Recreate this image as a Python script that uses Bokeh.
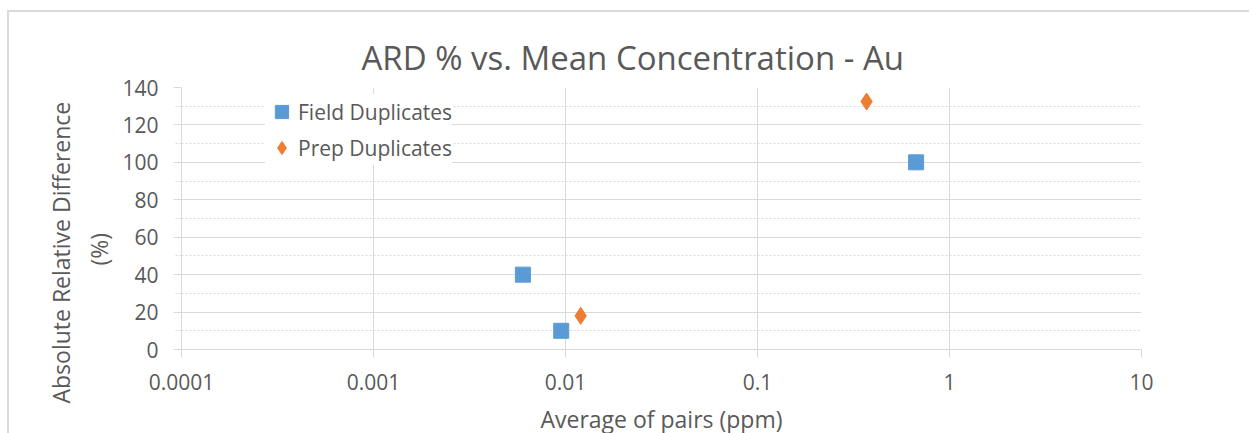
from bokeh.plotting import figure
from bokeh.models import (Range1d, FixedTicker, SingleIntervalTicker, Legend, LegendItem,
                          Title, ColumnDataSource)
from bokeh.embed import file_html
from bokeh.resources import INLINE

# ---- data ----
title_text = "ARD % vs. Mean Concentration - Au"
x_title = "Average of pairs (ppm)"
y_title_lines = ["Absolute Relative Difference", "(%)"]

field_x = [0.006, 0.0095, 0.67]
field_y = [40, 10, 100]
prep_x = [0.012, 0.37]
prep_y = [18, 132.5]

x_ticks = [0.0001, 0.001, 0.01, 0.1, 1, 10]
x_tick_labels = ["0.0001", "0.001", "0.01", "0.1", "1", "10"]

FONT = "Open Sans"
TXT = "#595959"
GRID = "#D9D9D9"
BLUE = "#5B9BD5"
ORANGE = "#ED7D31"

p = figure(x_axis_type="log", frame_width=960, frame_height=262,
           min_border_left=172, min_border_right=108, min_border_top=75, min_border_bottom=82,
           x_range=Range1d(0.0001, 10), y_range=Range1d(0, 140),
           output_backend="svg", toolbar_location=None, tools="")
p.styles = {"margin-left": "7px", "margin-top": "10px",
            "border-top": "2px solid #DADADA", "border-left": "2px solid #DADADA"}
p.outline_line_color = None
p.background_fill_color = "white"
p.border_fill_color = "white"

# title
p.title.text = title_text
p.title.align = "left"
p.title.offset = 180
p.title.text_font = FONT
p.title.text_font_size = "33px"
p.title.text_font_style = "normal"
p.title.text_color = TXT
p.title.standoff = 16

# axes
xa = p.xaxis[0]
xa.ticker = FixedTicker(ticks=x_ticks, minor_ticks=[])
xa.major_label_overrides = {t: l for t, l in zip(x_ticks, x_tick_labels)}
ya = p.yaxis[0]
ya.ticker = SingleIntervalTicker(interval=20, num_minor_ticks=2)
for ax in (xa, ya):
    ax.axis_line_color = GRID
    ax.major_tick_line_color = GRID
    ax.major_tick_out = 8
    ax.major_tick_in = 0
    ax.major_label_text_font = FONT
    ax.major_label_text_font_size = "21px"
    ax.major_label_text_color = TXT
    ax.axis_label_text_font = FONT
    ax.axis_label_text_font_style = "normal"
    ax.axis_label_text_color = TXT
xa.minor_tick_line_color = None
xa.major_label_standoff = 16
xa.axis_label = x_title
xa.axis_label_text_font_size = "23px"
xa.axis_label_standoff = 10
ya.minor_tick_line_color = GRID
ya.minor_tick_line_dash = "2 2"
ya.minor_tick_out = 6
ya.minor_tick_in = 0
ya.major_label_standoff = 15

# y axis title (two lines), nearest line first
y_offsets = {"(%)": 84, "Absolute Relative Difference": -54}
y_standoffs = {"(%)": 10, "Absolute Relative Difference": -3}
for line in reversed(y_title_lines):
    p.add_layout(Title(text=line, align="left", offset=y_offsets[line], text_font=FONT,
                       text_font_size="23px", text_font_style="normal", text_color=TXT,
                       standoff=y_standoffs[line]), "left")

# grids
p.xgrid.grid_line_color = GRID
p.ygrid.grid_line_color = GRID
p.ygrid.minor_grid_line_color = GRID
p.ygrid.minor_grid_line_dash = "2 2"

# data
src_f = ColumnDataSource(dict(x=field_x, y=field_y))
src_p = ColumnDataSource(dict(x=prep_x, y=prep_y))
rf = p.scatter("x", "y", source=src_f, marker="square", size=15, fill_color=BLUE, line_color=BLUE)
rp = p.scatter("x", "y", source=src_p, marker="diamond", size=17,
               fill_color=ORANGE, line_color=ORANGE)

legend = Legend(items=[LegendItem(label="Field Duplicates", renderers=[rf]),
                       LegendItem(label="Prep Duplicates", renderers=[rp])],
                location=(84, 184), orientation="vertical")
legend.margin = 0
legend.padding = 4
legend.spacing = 1
legend.glyph_width = 33
legend.glyph_height = 35
legend.label_height = 35
legend.label_standoff = 0
legend.label_text_font = FONT
legend.label_text_font_size = "21px"
legend.label_text_color = TXT
legend.border_line_color = None
legend.background_fill_color = "white"
legend.background_fill_alpha = 1.0
p.add_layout(legend)

open("out.html", "w").write(file_html(p, INLINE))
